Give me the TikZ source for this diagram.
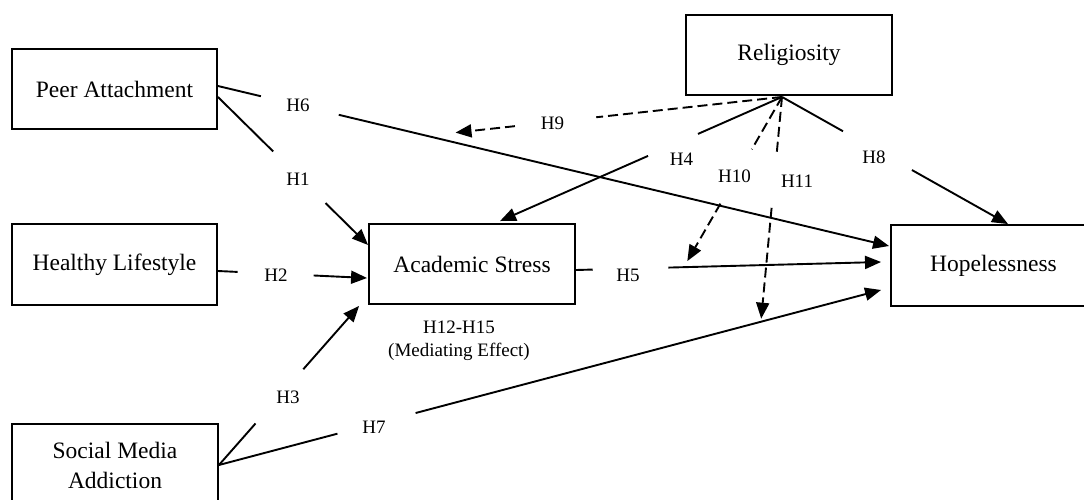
\documentclass[tikz,border=0pt]{standalone}
\usepackage{fontspec}
\setmainfont{Liberation Serif}
\usetikzlibrary{arrows.meta,calc}
\begin{document}
\begin{tikzpicture}[x=1pt,y=-1pt,
  box/.style={draw,line width=1.9pt,inner sep=0pt,align=center,
              font=\fontsize{23.5}{30}\selectfont},
  conn/.style={line width=1.9pt},
  arr/.style={conn,-{Triangle[length=16pt,width=13pt]}},
  dashline/.style={dash pattern=on 10pt off 5pt},
  lbl/.style={inner sep=0pt,align=center,font=\fontsize{19}{23}\selectfont}]
\useasboundingbox (0,0) rectangle (1084,500);
\clip (0,0) rectangle (1084,500);

% boxes
\node[box,minimum width=205pt,minimum height=80pt] (pa) at (114.5,89) {Peer Attachment};
\node[box,minimum width=205pt,minimum height=81pt] (hl) at (114.5,264.5) {Healthy Lifestyle};
\node[box,minimum width=206pt,minimum height=82pt] (sma) at (115,465) {Social Media\\Addiction};
\node[box,minimum width=206pt,minimum height=80pt] (as) at (472,264) {Academic Stress};
\node[box,minimum width=206pt,minimum height=80pt] (rel) at (789,55) {Religiosity};
\node[box,minimum width=205pt,minimum height=81pt] (hop) at (993.5,265.5) {Hopelessness};

% end points
\coordinate (ro) at ([xshift=-7pt,yshift=-1pt]rel.south);

% H6: Peer Attachment -> Hopelessness
\path ([yshift=3pt]pa.east) -- ([xshift=-1pt,yshift=19.5pt]hop.west)
  coordinate[pos=0.064] (h6g1) coordinate[pos=0.180] (h6g2) coordinate[pos=0.354] (m6);
\draw[conn] ([yshift=3pt]pa.east) -- (h6g1);
\draw[arr] (h6g2) -- ([xshift=-1pt,yshift=19.5pt]hop.west);

% H1: Peer Attachment -> Academic Stress
\path ([yshift=-8pt]pa.east) -- ([yshift=19pt]as.west)
  coordinate[pos=0.368] (h1g1) coordinate[pos=0.717] (h1g2);
\draw[conn] ([yshift=-8pt]pa.east) -- (h1g1);
\draw[arr] (h1g2) -- ([yshift=19pt]as.west);

% H2: Healthy Lifestyle -> Academic Stress
\path ([yshift=-6.5pt]hl.east) -- ([xshift=-1pt,yshift=-14pt]as.west)
  coordinate[pos=0.132] (h2g1) coordinate[pos=0.642] (h2g2);
\draw[conn] ([yshift=-6.5pt]hl.east) -- (h2g1);
\draw[arr] (h2g2) -- ([xshift=-1pt,yshift=-14pt]as.west);

% H3: Social Media Addiction -> Academic Stress
\path (sma.east) -- ([xshift=-9pt,yshift=-1pt]as.south west)
  coordinate[pos=0.261] (h3g1) coordinate[pos=0.602] (h3g2);
\draw[conn] (sma.east) -- (h3g1);
\draw[arr] (h3g2) -- ([xshift=-9pt,yshift=-1pt]as.south west);

% H7: Social Media Addiction -> Hopelessness
\path (sma.east) -- ([xshift=-9pt,yshift=-24.5pt]hop.west)
  coordinate[pos=0.179] (h7g1) coordinate[pos=0.297] (h7g2) coordinate[pos=0.819] (m7);
\draw[conn] (sma.east) -- (h7g1);
\draw[arr] (h7g2) -- ([xshift=-9pt,yshift=-24.5pt]hop.west);

% H5: Academic Stress -> Hopelessness
\path ([yshift=-6pt]as.east) -- ([xshift=-9pt,yshift=3.5pt]hop.west)
  coordinate[pos=0.055] (h5g1) coordinate[pos=0.303] (h5g2) coordinate[pos=0.365] (m5);
\draw[conn] ([yshift=-6pt]as.east) -- (h5g1);
\draw[arr] (h5g2) -- ([xshift=-9pt,yshift=3.5pt]hop.west);

% H4: Religiosity -> Academic Stress
\path (ro) -- ([xshift=28pt,yshift=2pt]as.north)
  coordinate[pos=0.298] (h4g1) coordinate[pos=0.475] (h4g2);
\draw[conn] (ro) -- (h4g1);
\draw[arr] (h4g2) -- ([xshift=28pt,yshift=2pt]as.north);

% H8: Religiosity -> Hopelessness
\path (ro) -- ([xshift=14.5pt]hop.north)
  coordinate[pos=0.270] (h8g1) coordinate[pos=0.575] (h8g2);
\draw[conn] (ro) -- (h8g1);
\draw[arr] (h8g2) -- ([xshift=14.5pt]hop.north);

% moderation (dashed)
\coordinate (t9) at ([yshift=10pt]m6);
\coordinate (t10) at ([yshift=6pt]m5);
\coordinate (t11) at ([yshift=3pt]m7);

\path (ro) -- (t9) coordinate[pos=0.569] (h9g1) coordinate[pos=0.818] (h9g2);
\draw[conn,dashline] (ro) -- (h9g1);
\draw[arr,dashline] (h9g2) -- (t9);

\path (ro) -- (t10) coordinate[pos=0.319] (h10g1) coordinate[pos=0.650] (h10g2);
\draw[conn,dashline] (ro) -- (h10g1);
\draw[arr,dashline] (h10g2) -- (t10);

\path (ro) -- (t11) coordinate[pos=0.252] (h11g1) coordinate[pos=0.500] (h11g2);
\draw[conn,dashline] (ro) -- (h11g1);
\draw[arr,dashline] (h11g2) -- (t11);

% labels
\node[lbl] (l6) at (298,105) {H6};
\node[lbl] (l1) at (298,179) {H1};
\node[lbl] (l2) at (276,275) {H2};
\node[lbl] (l3) at (288,397) {H3};
\node[lbl] (l7) at (374,427) {H7};
\node[lbl] (l5) at (628,275) {H5};
\node[lbl] (l4) at (681.5,159) {H4};
\node[lbl] (l10) at (734.5,176) {H10};
\node[lbl] (l11) at (797,181) {H11};
\node[lbl] (l8) at (874,157) {H8};
\node[lbl] (l9) at (552.5,123) {H9};
\node[lbl] (lmed) at (459,340.5) {H12-H15\\(Mediating Effect)};
\end{tikzpicture}
\end{document}
